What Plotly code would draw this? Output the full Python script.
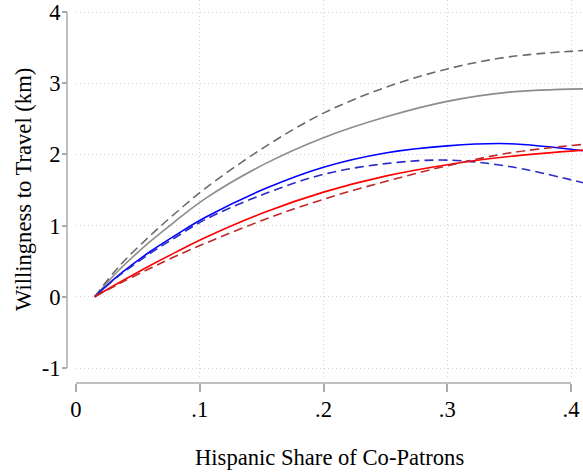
import plotly.graph_objects as go

# Hispanic share of co-patrons (x positions where values were read)
share = [0.0151, 0.035, 0.06, 0.08, 0.105, 0.153, 0.2, 0.25, 0.30, 0.35, 0.41]

# Willingness to travel (km) for each series
gray_solid = [0, 0.38, 0.777, 1.058, 1.386, 1.87, 2.235, 2.525, 2.745, 2.875, 2.92]
gray_dash = [0, 0.43, 0.86, 1.17, 1.53, 2.11, 2.58, 2.94, 3.20, 3.37, 3.46]
blue_solid = [0, 0.31, 0.636, 0.86, 1.12, 1.52, 1.82, 2.02, 2.12, 2.15, 2.05]
blue_dash = [0, 0.30, 0.61, 0.83, 1.09, 1.45, 1.72, 1.87, 1.92, 1.83, 1.60]
red_solid = [0, 0.20, 0.44, 0.62, 0.835, 1.19, 1.47, 1.695, 1.855, 1.97, 2.06]
red_dash = [0, 0.185, 0.40, 0.565, 0.755, 1.09, 1.37, 1.62, 1.84, 2.02, 2.14]

xticks = [0, 0.1, 0.2, 0.3, 0.4]
xticklabels = ["0", ".1", ".2", ".3", ".4"]
yticks = [-1, 0, 1, 2, 3, 4]
yticklabels = ["-1", "0", "1", "2", "3", "4"]

series = [
    (gray_solid, "#8c8c8c", "solid"),
    (gray_dash, "#6a6a6a", "9px,5px"),
    (blue_solid, "#0000ff", "solid"),
    (blue_dash, "#2a2ac8", "9px,5px"),
    (red_solid, "#ff0000", "solid"),
    (red_dash, "#c02828", "9px,5px"),
]

fig = go.Figure()
for ys, col, dash in series:
    fig.add_trace(go.Scatter(x=share, y=ys, mode="lines",
                             line=dict(color=col, width=1.6, dash=dash, shape="spline", smoothing=1.0),
                             showlegend=False, hoverinfo="skip"))

W, H = 583, 473
ml, mb = 67, 90
pw, ph = W - ml, H - mb
font = "Liberation Serif, Times New Roman, serif"
fs = 22.6
axcol = "#ababab"

fig.update_layout(
    width=W, height=H,
    margin=dict(l=ml, r=0, t=0, b=mb, pad=0),
    paper_bgcolor="white", plot_bgcolor="white",
    font=dict(family=font, size=fs, color="black"),
    xaxis=dict(domain=[(76 - ml) / pw, 1], range=[0, (583 - 76) / 1237.5],
               anchor="free", position=0,
               tickvals=xticks, ticktext=xticklabels,
               ticks="outside", ticklen=8, tickwidth=1.5, tickcolor=axcol,
               ticklabeloverflow="allow", ticklabelstandoff=-2,
               showline=False, zeroline=False,
               showgrid=True, gridcolor="#d4d4d4", gridwidth=1, griddash="1px,3px",
               tickfont=dict(family=font, size=fs, color="black")),
    yaxis=dict(domain=[5 / ph, 1], range=[-1 - 10 / 71.2, 4 + 12 / 71.2],
               anchor="free", position=0,
               tickvals=yticks, ticktext=yticklabels,
               ticks="outside", ticklen=5, tickwidth=1.5, tickcolor=axcol,
               ticklabeloverflow="allow", ticklabelstandoff=-3,
               showline=False, zeroline=False,
               showgrid=True, gridcolor="#d4d4d4", gridwidth=1, griddash="1px,3px",
               tickfont=dict(family=font, size=fs, color="black")),
    shapes=[
        dict(type="line", xref="paper", yref="y", x0=0, x1=0, y0=-1, y1=4,
             line=dict(color=axcol, width=1.5), layer="above"),
        dict(type="line", xref="x", yref="paper", x0=0, x1=0.4, y0=0, y1=0,
             line=dict(color=axcol, width=1.5), layer="above"),
    ],
    annotations=[
        dict(text="Willingness to Travel (km)", textangle=-90, showarrow=False,
             xref="paper", yref="paper", x=(23 - ml) / pw, y=(H - mb - 190) / ph,
             xanchor="center", yanchor="middle", font=dict(family=font, size=fs)),
        dict(text="Hispanic Share of Co-Patrons", showarrow=False,
             xref="paper", yref="paper", x=(329.5 - ml) / pw, y=(H - mb - 457) / ph,
             xanchor="center", yanchor="middle", font=dict(family=font, size=fs)),
    ],
)

fig.write_html("out.html")
